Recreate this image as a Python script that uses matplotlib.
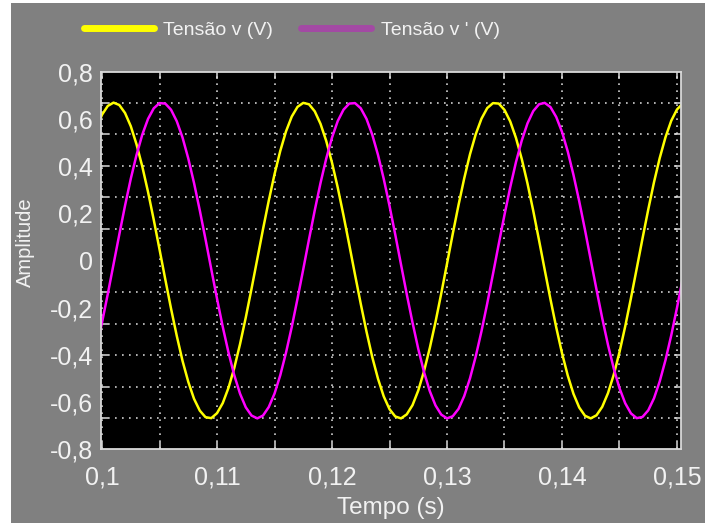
import numpy as np
import matplotlib
matplotlib.use("Agg")
import matplotlib.pyplot as plt
from matplotlib.lines import Line2D
from matplotlib.patches import Rectangle
from matplotlib.ticker import FuncFormatter, MultipleLocator, FixedLocator

plt.rcParams["font.family"] = ["Liberation Sans", "DejaVu Sans"]
plt.rcParams["axes.unicode_minus"] = False

# amostras (passo de 0,5 ms)
t_inicio, t_passo, n_amostras = 0.0995, 0.0005, 103
tempo = np.round(t_inicio + t_passo * np.arange(n_amostras), 4)

tensao_v = [
    0.559, 0.619, 0.656, 0.670, 0.660, 0.626, 0.570, 0.493, 0.399, 0.291,
    0.172, 0.047, -0.080, -0.204, -0.320, -0.426, -0.515, -0.587, -0.637, -0.665,
    -0.669, -0.648, -0.605, -0.540, -0.456, -0.355, -0.242, -0.120, 0.006, 0.133,
    0.254, 0.366, 0.465, 0.548, 0.611, 0.652, 0.669, 0.663, 0.633, 0.580,
    0.507, 0.415, 0.309, 0.191, 0.067, -0.060, -0.184, -0.302, -0.410, -0.502,
    -0.577, -0.631, -0.662, -0.670, -0.653, -0.614, -0.552, -0.470, -0.372, -0.261,
    -0.140, -0.014, 0.113, 0.235, 0.349, 0.451, 0.536, 0.602, 0.647, 0.668,
    0.666, 0.639, 0.590, 0.520, 0.431, 0.327, 0.211, 0.087, -0.040, -0.165,
    -0.284, -0.393, -0.488, -0.566, -0.624, -0.659, -0.670, -0.657, -0.621, -0.563,
    -0.485, -0.389, -0.279, -0.159, -0.034, 0.093, 0.216, 0.332, 0.435, 0.523,
    0.593, 0.641, 0.666,
]
tensao_v_linha = [
    -0.374, -0.263, -0.142, -0.016, 0.110, 0.233, 0.347, 0.448, 0.534, 0.601,
    0.646, 0.668, 0.666, 0.640, 0.591, 0.522, 0.433, 0.329, 0.213, 0.090,
    -0.037, -0.162, -0.282, -0.391, -0.487, -0.565, -0.623, -0.658, -0.670, -0.658,
    -0.622, -0.565, -0.487, -0.391, -0.282, -0.162, -0.037, 0.090, 0.213, 0.329,
    0.433, 0.522, 0.592, 0.640, 0.666, 0.668, 0.646, 0.601, 0.534, 0.448,
    0.346, 0.232, 0.110, -0.017, -0.143, -0.263, -0.375, -0.473, -0.554, -0.615,
    -0.654, -0.670, -0.661, -0.630, -0.575, -0.500, -0.407, -0.300, -0.182, -0.057,
    0.070, 0.194, 0.311, 0.418, 0.509, 0.582, 0.634, 0.663, 0.669, 0.651,
    0.609, 0.546, 0.463, 0.363, 0.251, 0.130, 0.003, -0.123, -0.245, -0.358,
    -0.458, -0.542, -0.606, -0.649, -0.669, -0.664, -0.636, -0.585, -0.513, -0.423,
    -0.318, -0.201, -0.077,
]
legendas = ["Tensão v (V)", "Tensão v ' (V)"]

cinza = "#808080"
texto = "#f2f2f2"
borda = "#d9d9d9"

fig = plt.figure(figsize=(7.05, 5.23), dpi=100, facecolor="white")
fig.patches.append(Rectangle((11 / 705, 0), 1, 520 / 523, transform=fig.transFigure,
                             facecolor=cinza, edgecolor="none", zorder=-10))
ax = fig.add_axes([101 / 705, 74 / 523, 580 / 705, 377 / 523])
ax.set_facecolor("black")

ax.plot(tempo, tensao_v, color="#ffff00", lw=1.8)
ax.plot(tempo, tensao_v_linha, color="#ff00ff", lw=1.8)

ax.set_xlim(0.09991, 0.15035)
ax.set_ylim(-0.8, 0.8)

virgula = FuncFormatter(lambda v, p: ("%g" % round(v, 4)).replace(".", ","))
ax.xaxis.set_major_locator(MultipleLocator(0.01))
ax.xaxis.set_minor_locator(MultipleLocator(0.005))
ax.yaxis.set_major_locator(MultipleLocator(0.2))
ax.yaxis.set_minor_locator(FixedLocator([k * 0.134 for k in range(-5, 6)]))
ax.xaxis.set_major_formatter(virgula)
ax.yaxis.set_major_formatter(virgula)

ax.tick_params(which="both", direction="in", top=True, right=True, colors=borda,
               labelcolor=texto, labelsize=18, width=1.1)
ax.tick_params(axis="x", which="both", length=5, pad=12)
ax.tick_params(axis="y", which="major", length=0, pad=6)
ax.tick_params(axis="y", which="minor", length=5)

grade = dict(color="#cfcfcf", linestyle=(0, (1, 3.2)), linewidth=1.2)
ax.grid(True, axis="x", which="both", **grade)
ax.grid(True, axis="y", which="minor", **grade)
ax.grid(False, axis="y", which="major")

for s in ax.spines.values():
    s.set_color(borda)
    s.set_linewidth(1.3)

ax.set_xlabel("Tempo (s)", color=texto, fontsize=17.5)
ax.xaxis.set_label_coords(0.5, -0.128)
ax.set_ylabel("Amplitude", color=texto, fontsize=14.5)
ax.yaxis.set_label_coords(-0.114, 0.549)

alcas = [Line2D([], [], color="#ffff00", lw=5, solid_capstyle="round"),
         Line2D([], [], color="#a349a4", lw=5, solid_capstyle="round")]
leg = fig.legend(alcas, legendas, loc="center", bbox_to_anchor=(0.414, 0.943), ncol=2,
                 frameon=False, fontsize=14, handlelength=3.6, handletextpad=0.5,
                 columnspacing=1.45)
for tx in leg.get_texts():
    tx.set_color(texto)

fig.savefig("out.png", dpi=100, facecolor=fig.get_facecolor())
